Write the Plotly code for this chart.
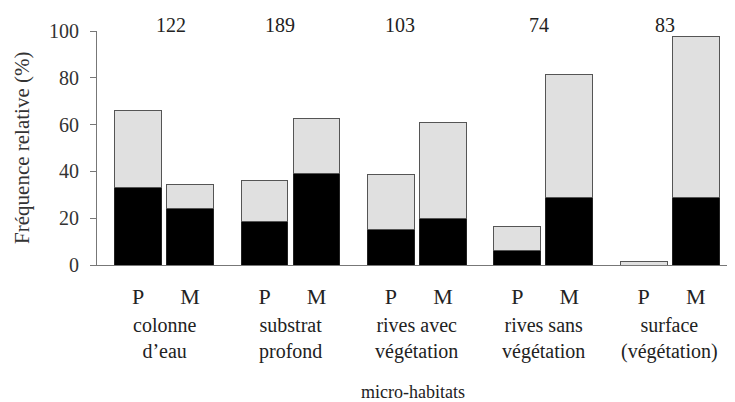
import plotly.graph_objects as go

# ---- data ----
habitats = ["colonne<br>d’eau", "substrat<br>profond", "rives avec<br>végétation",
            "rives sans<br>végétation", "surface<br>(végétation)"]
n_counts = ["122", "189", "103", "74", "83"]
groups = ["P", "M"]
# black (lower) segment, %
p_black = [33, 18.5, 15, 6, 0]
m_black = [24, 39, 20, 29, 29]
# grey (upper) segment, %
p_grey = [33, 17.5, 23.5, 10.5, 1.5]
m_grey = [10.5, 23.5, 41, 52.5, 68.5]
y_ticks = [0, 20, 40, 60, 80, 100]

# ---- layout helpers ----
group_step = 2.43
x_p = [i * group_step for i in range(len(habitats))]
x_m = [i * group_step + 1 for i in range(len(habitats))]
xs = x_p + x_m
black = p_black + m_black
grey = p_grey + m_grey
tick_text = [groups[0]] * len(habitats) + [groups[1]] * len(habitats)
count_xshift = [7, -11, -17, -4, -5]  # counts sit slightly off-centre in the original

FONT = "Liberation Serif, Times New Roman, serif"
fig = go.Figure()
fig.add_trace(go.Bar(x=xs, y=black, width=0.9,
                     marker=dict(color="#000000", line=dict(color="#222", width=1)),
                     showlegend=False))
fig.add_trace(go.Bar(x=xs, y=grey, width=0.9,
                     marker=dict(color="#e0e0e0", line=dict(color="#555", width=1)),
                     showlegend=False))

for i, h in enumerate(habitats):
    cx = (x_p[i] + x_m[i]) / 2
    fig.add_annotation(x=cx, xref="x", y=0, yref="paper", text=h, showarrow=False,
                       yanchor="middle", xanchor="center", yshift=-73,
                       font=dict(family=FONT, size=20, color="#222"))
    fig.add_annotation(x=cx, xref="x", y=1, yref="paper", text=n_counts[i], showarrow=False,
                       yanchor="middle", xanchor="center", yshift=6, xshift=count_xshift[i],
                       font=dict(family=FONT, size=20, color="#222"))

fig.add_annotation(x=0.5, xref="paper", y=0, yref="paper", text="micro-habitats", showarrow=False,
                   yanchor="middle", xanchor="center", yshift=-127,
                   font=dict(family=FONT, size=18, color="#222"))
fig.add_annotation(x=-0.119, xref="paper", y=0.5, yref="paper", text="Fréquence relative (%)",
                   showarrow=False, textangle=-90, xanchor="center", yanchor="middle",
                   font=dict(family=FONT, size=21, color="#333"))

# page body adds an 8px offset, so the figure is 8px smaller and margins shifted
fig.update_layout(
    barmode="stack",
    width=727, height=394,
    margin=dict(l=89, r=7, t=23, b=137),
    paper_bgcolor="white", plot_bgcolor="white",
    font=dict(family=FONT, color="#222"),
)
fig.update_xaxes(range=[-0.79, 11.34], tickvals=xs, ticktext=tick_text, ticks="",
                 ticklabelstandoff=12, tickfont=dict(family=FONT, size=22, color="#222"),
                 showline=True, linecolor="#777", linewidth=1, showgrid=False, zeroline=False)
fig.update_yaxes(range=[0, 100], tickvals=y_ticks, ticks="outside", ticklen=6, tickcolor="#777",
                 tickfont=dict(family=FONT, size=20, color="#333"), ticklabelstandoff=7,
                 showline=True, linecolor="#777", linewidth=1, showgrid=False, zeroline=False)

fig.write_html("out.html")
